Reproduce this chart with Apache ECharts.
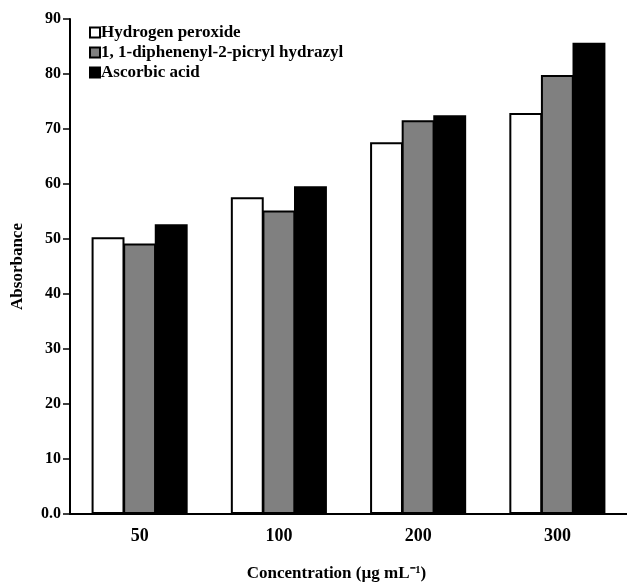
<!DOCTYPE html>
<html>
<head>
<meta charset="utf-8">
<script src="https://cdn.jsdelivr.net/npm/echarts@6/dist/echarts.min.js"></script>
<style>html,body{margin:0;padding:0;background:#fff;}#c{width:627px;height:587px;}</style>
</head>
<body>
<div id="c"></div>
<script>
const categories = ['50', '100', '200', '300'];
const seriesNames = ['Hydrogen peroxide', '1, 1-diphenenyl-2-picryl hydrazyl', 'Ascorbic acid'];
const hydrogenPeroxide = [50.3, 57.6, 67.6, 72.9];
const dpph = [49.2, 55.2, 71.6, 79.8];
const ascorbicAcid = [52.7, 59.6, 72.5, 85.7];
const yTicks = [0, 10, 20, 30, 40, 50, 60, 70, 80, 90];

const font = "'Liberation Serif', 'Times New Roman', serif";
const chart = echarts.init(document.getElementById('c'));
const fills = ['#ffffff', '#808080', '#000000'];
const datas = [hydrogenPeroxide, dpph, ascorbicAcid];

chart.setOption({
  animation: false,
  backgroundColor: '#fff',
  grid: { left: 70, top: 19, bottom: 65, right: -10, containLabel: false },
  legend: {
    orient: 'vertical', left: 84, top: 19,
    itemWidth: 10, itemHeight: 10, itemGap: 3,
    icon: 'rect',
    textStyle: { fontFamily: font, fontSize: 17, fontWeight: 'bold', color: '#000', padding: [0, 0, 0, -4] },
    data: seriesNames
  },
  xAxis: {
    type: 'category', data: categories,
    axisLine: { lineStyle: { color: '#000', width: 2 } },
    axisTick: { show: false },
    axisLabel: { fontFamily: font, fontSize: 18, fontWeight: 'bold', color: '#000', margin: 13 },
    name: 'Concentration (µg mL⁻¹)', nameLocation: 'middle', nameGap: 51,
    nameTextStyle: { fontFamily: font, fontSize: 17, color: '#000', fontWeight: 'bold', padding: [0, 24, 0, 0] }
  },
  yAxis: {
    type: 'value', min: 0, max: 90, interval: 10,
    axisLine: { show: true, lineStyle: { color: '#000', width: 2 } },
    axisTick: { show: true, length: 7, lineStyle: { color: '#000', width: 1.5 } },
    splitLine: { show: false },
    axisLabel: {
      fontFamily: font, fontSize: 16, fontWeight: 'bold', color: '#000', margin: 9,
      formatter: v => (v === 0 ? '0.0' : String(v))
    },
    name: 'Absorbance', nameLocation: 'middle', nameGap: 44,
    nameTextStyle: { fontFamily: font, fontSize: 17, color: '#000', fontWeight: 'bold' }
  },
  series: seriesNames.map((n, i) => ({
    name: n, type: 'bar', data: datas[i],
    barGap: '-4%', barCategoryGap: '31%',
    itemStyle: { color: fills[i], borderColor: '#000', borderWidth: 2 }
  }))
});
</script>
</body>
</html>
